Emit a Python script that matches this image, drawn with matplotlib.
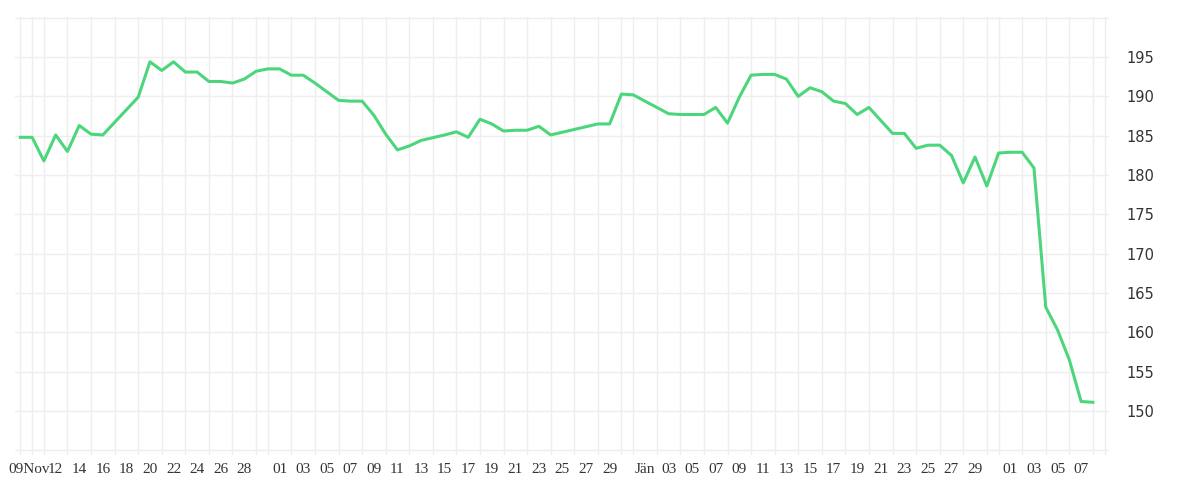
import matplotlib
matplotlib.use("Agg")
import matplotlib.pyplot as plt

# days since 09 Nov, price
days = [0, 1, 2, 3, 4, 5, 6, 7, 9, 10, 11, 12, 13, 14, 15, 16, 17, 18, 19, 20,
        21, 22, 23, 24, 25, 27, 28, 29, 30, 31, 32, 33, 34, 36, 37, 38, 39, 40,
        41, 42, 43, 44, 45, 49, 50, 51, 52, 55, 56, 58, 59, 60, 61, 62, 63, 64,
        65, 66, 67, 68, 69, 70, 71, 72, 74, 75, 76, 77, 78, 79, 80, 81, 82, 83,
        84, 85, 86, 87, 88, 89, 90, 91]
price = [184.8, 184.8, 181.8, 185.1, 183.0, 186.3, 185.2, 185.1, 188.3, 189.9,
         194.4, 193.3, 194.4, 193.1, 193.1, 191.9, 191.9, 191.7, 192.2, 193.2,
         193.5, 193.5, 192.7, 192.7, 191.7, 189.5, 189.4, 189.4, 187.6, 185.2,
         183.2, 183.7, 184.4, 185.1, 185.5, 184.8, 187.1, 186.5, 185.6, 185.7,
         185.7, 186.2, 185.1, 186.5, 186.5, 190.3, 190.2, 187.8, 187.7, 187.7,
         188.6, 186.6, 189.9, 192.7, 192.8, 192.8, 192.2, 190.0, 191.1, 190.6,
         189.4, 189.1, 187.7, 188.6, 185.3, 185.3, 183.4, 183.8, 183.8, 182.5,
         179.0, 182.3, 178.6, 182.8, 182.9, 182.9, 180.9, 163.2, 160.3, 156.5,
         151.2, 151.1]

tick_days = [0.75] + list(range(3, 20, 2)) + list(range(22, 51, 2)) + [53] \
    + list(range(55, 82, 2)) + [84, 86, 88, 90]
tick_labels = ["09Nov"] + [f"{d:02d}" for d in range(12, 29, 2)] \
    + [f"{d:02d}" for d in range(1, 30, 2)] + ["Jän"] \
    + [f"{d:02d}" for d in range(3, 30, 2)] + ["01", "03", "05", "07"]
y_ticks = [150, 155, 160, 165, 170, 175, 180, 185, 190, 195]

fig = plt.figure(figsize=(12, 5), dpi=100)
ax = fig.add_axes([0.0125, 0.09, 0.912, 0.876])

ax.plot(days, price, color="#4cd67c", linewidth=2.2, solid_joinstyle="round", zorder=3)

ax.set_xlim(-0.45, 92.4)
ax.set_ylim(144.4, 200.1)
ax.set_xticks(range(0, 93), minor=True)
ax.set_xticks(tick_days)
ax.set_xticklabels(tick_labels, family="Liberation Serif", fontsize=11, color="#333333")
ax.set_yticks([145] + y_ticks + [200])
ax.set_yticklabels([""] + [str(v) for v in y_ticks] + [""], fontsize=10.5, color="#333333")
ax.yaxis.tick_right()
ax.tick_params(axis="both", which="both", length=0, pad=6)
ax.tick_params(axis="y", pad=12)
ax.grid(True, which="minor", axis="x", color="#eeeeee", linewidth=1)
ax.grid(True, which="major", axis="y", color="#eeeeee", linewidth=1)
for s in ax.spines.values():
    s.set_visible(False)

fig.savefig("out.png", dpi=100, facecolor="white")
